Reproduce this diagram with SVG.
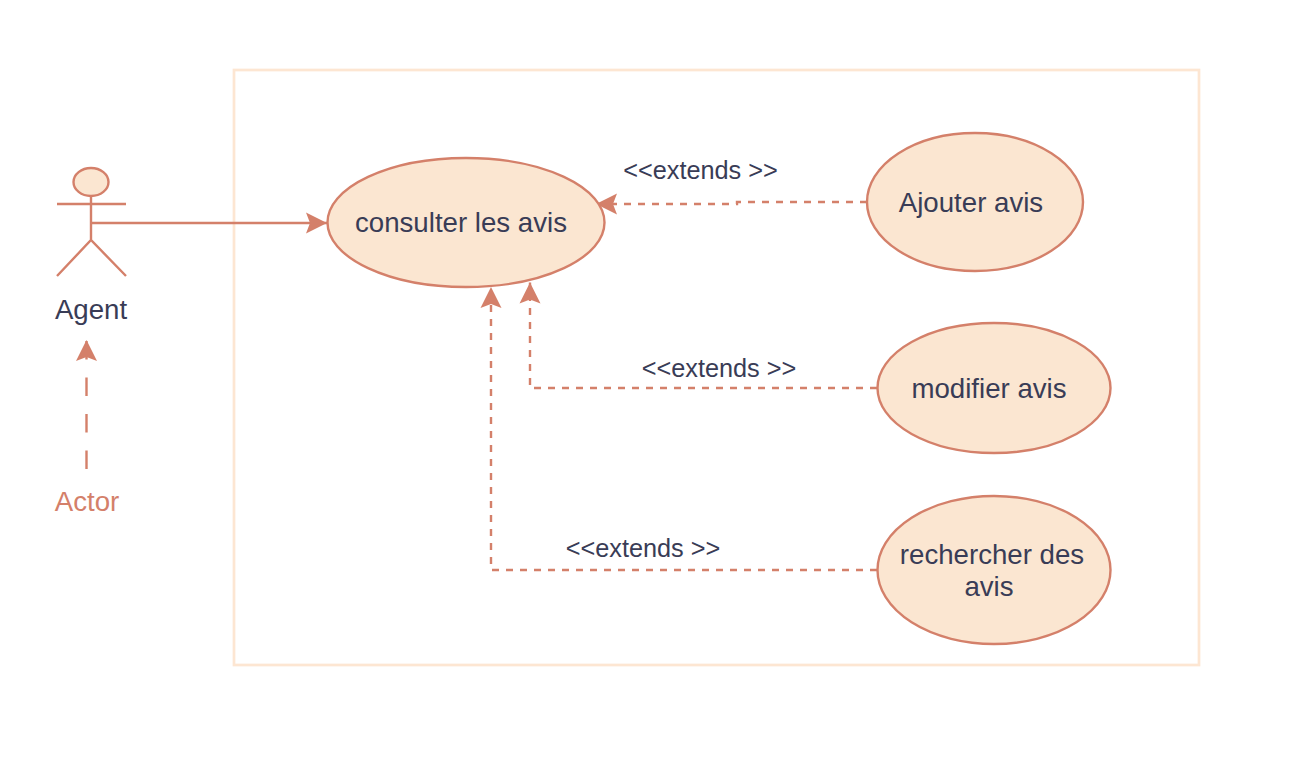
<svg xmlns="http://www.w3.org/2000/svg" width="1314" height="762" viewBox="0 0 1314 762">
<style>
text{font-family:"Helvetica Neue","Liberation Sans",Arial,sans-serif;fill:#393c56;text-anchor:middle}
.n{font-size:27.65px}
.l{font-size:25.3px}
.u{fill:#fbe6d1;stroke:#d4806a;stroke-width:2.4}
.c{fill:none;stroke:#d4806a;stroke-width:2.4}
.d{stroke-dasharray:7 7}
.t{fill:#d4806a;stroke:none}
</style>
<defs><marker id="a" markerUnits="userSpaceOnUse" markerWidth="24" markerHeight="24" refX="21" refY="11" orient="auto"><path d="M0 0.500L21 11L0 21.500L4 11Z" class="t"/></marker></defs>
<rect x="0" y="0" width="1314" height="762" fill="#fff"/>
<rect x="234" y="70" width="965" height="595" fill="#fff" stroke="#fde6d2" stroke-width="2.7"/>
<g id="connectors">
<path class="c" d="M91 223H327" marker-end="url(#a)"/>
<path class="c d" d="M867 202H737V204H596" marker-end="url(#a)"/>
<path class="c d" d="M877 388H530V282.500" marker-end="url(#a)"/>
<path class="c d" d="M877 570H491V287" marker-end="url(#a)"/>
<path class="c" d="M86.500 469V340" stroke-dasharray="18.500 18" marker-end="url(#a)"/>
</g>
<g id="actor-agent"><ellipse class="u" cx="91" cy="182" rx="17.500" ry="14"/><path class="c" d="M91 196V240M57 204H126M57 276L91 240L126 276"/><text class="n" x="91" y="319">Agent</text></g>
<g id="actor-label"><text class="n" x="87" y="511" style="fill:#d4806a">Actor</text></g>
<g id="uc-consulter"><ellipse class="u" cx="466" cy="222.500" rx="138.500" ry="64.500"/><text class="n" x="461" y="232">consulter les avis</text></g>
<g id="uc-ajouter"><ellipse class="u" cx="975" cy="202" rx="108" ry="69"/><text class="n" x="971" y="212">Ajouter avis</text></g>
<g id="uc-modifier"><ellipse class="u" cx="994" cy="388" rx="116.500" ry="65"/><text class="n" x="989" y="398">modifier avis</text></g>
<g id="uc-rechercher"><ellipse class="u" cx="994" cy="570" rx="116.500" ry="74"/><text class="n" x="992" y="564">rechercher des</text><text class="n" x="989" y="596">avis</text></g>
<g id="labels"><text class="l" x="700.500" y="178.500">&lt;&lt;extends &gt;&gt;</text><text class="l" x="719" y="376.500">&lt;&lt;extends &gt;&gt;</text><text class="l" x="643" y="556.500">&lt;&lt;extends &gt;&gt;</text></g>
</svg>
